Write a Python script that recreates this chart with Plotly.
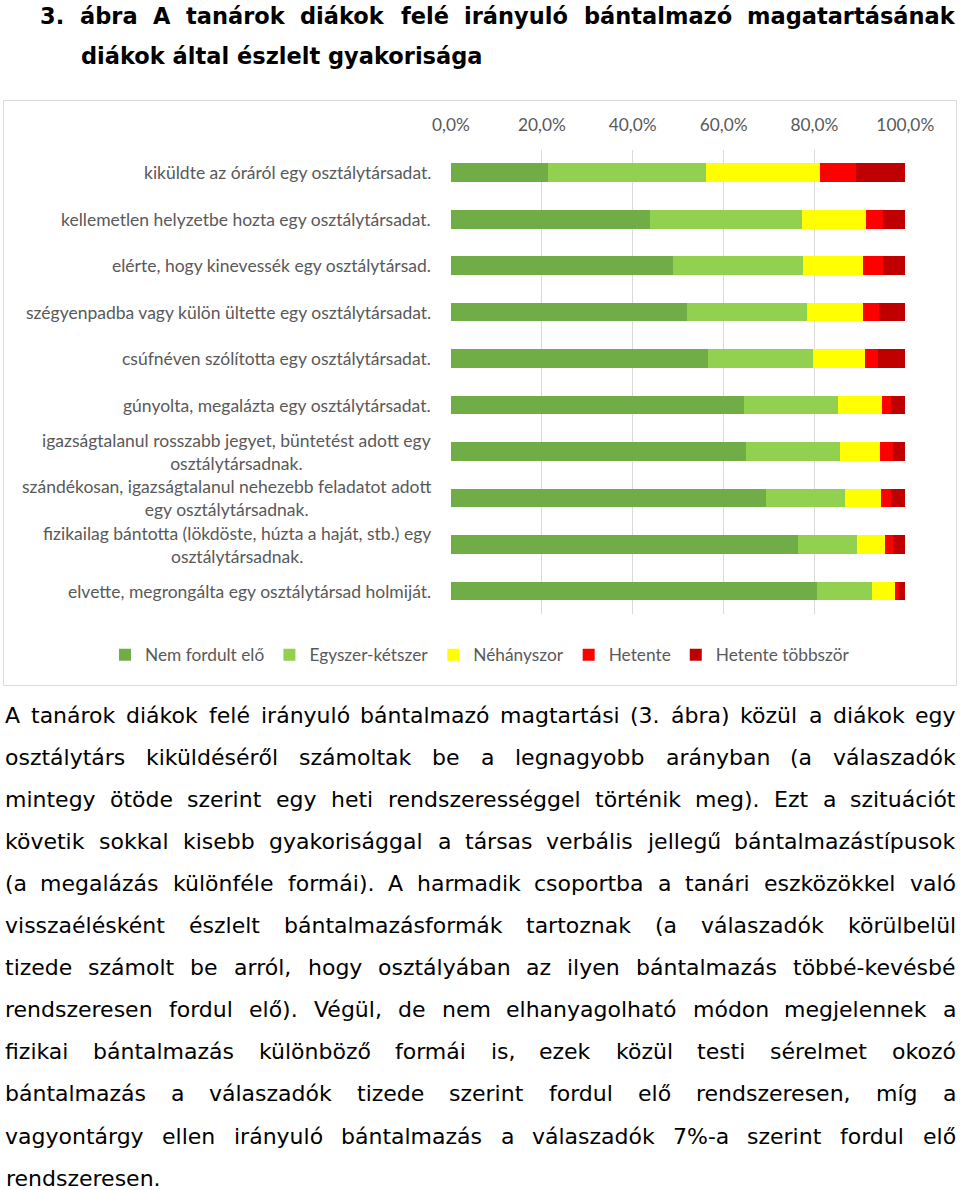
import unicodedata
import plotly.graph_objects as go

W, H = 960, 1190

categories = [
    "kiküldte az óráról egy osztálytársadat.",
    "kellemetlen helyzetbe hozta egy osztálytársadat.",
    "elérte, hogy kinevessék egy osztálytársad.",
    "szégyenpadba vagy külön ültette egy osztálytársadat.",
    "csúfnéven szólította egy osztálytársadat.",
    "gúnyolta, megalázta egy osztálytársadat.",
    "igazságtalanul rosszabb jegyet, büntetést adott egy<br>osztálytársadnak.",
    "szándékosan, igazságtalanul nehezebb feladatot adott<br>egy osztálytársadnak.",
    "fizikailag bántotta (lökdöste, húzta a haját, stb.) egy<br>osztálytársadnak.",
    "elvette, megrongálta egy osztálytársad holmiját.",
]

series_names = ["Nem fordult elő", "Egyszer-kétszer", "Néhányszor", "Hetente", "Hetente többször"]
nem_fordult_elo = [21.4, 43.8, 48.9, 51.9, 56.6, 64.5, 64.9, 69.3, 76.3, 80.5]
egyszer_ketszer = [34.7, 33.4, 28.6, 26.4, 23.1, 20.7, 20.8, 17.4, 13.1, 12.2]
nehanyszor = [25.1, 14.2, 13.1, 12.3, 11.4, 9.7, 8.8, 7.9, 6.2, 5.1]
hetente = [7.9, 3.8, 4.5, 3.5, 2.8, 1.9, 2.7, 2.2, 1.8, 0.9]
hetente_tobbszor = [10.9, 4.8, 4.9, 5.9, 6.1, 3.2, 2.8, 3.2, 2.6, 1.3]
series_values = [nem_fordult_elo, egyszer_ketszer, nehanyszor, hetente, hetente_tobbszor]
series_colors = ["#70AD47", "#92D050", "#FFFF00", "#FF0000", "#C00000"]

x_tick_values = [0, 0.2, 0.4, 0.6, 0.8, 1.0]

title_line1 = "3. ábra A tanárok diákok felé irányuló bántalmazó magatartásának"
title_line2 = "diákok által észlelt gyakorisága"

body_lines = [
    "A tanárok diákok felé irányuló bántalmazó magtartási (3. ábra) közül a diákok egy",
    "osztálytárs kiküldéséről számoltak be a legnagyobb arányban (a válaszadók",
    "mintegy ötöde szerint egy heti rendszerességgel történik meg). Ezt a szituációt",
    "követik sokkal kisebb gyakorisággal a társas verbális jellegű bántalmazástípusok",
    "(a megalázás különféle formái). A harmadik csoportba a tanári eszközökkel való",
    "visszaélésként észlelt bántalmazásformák tartoznak (a válaszadók körülbelül",
    "tizede számolt be arról, hogy osztályában az ilyen bántalmazás többé-kevésbé",
    "rendszeresen fordul elő). Végül, de nem elhanyagolható módon megjelennek a",
    "fizikai bántalmazás különböző formái is, ezek közül testi sérelmet okozó",
    "bántalmazás a válaszadók tizede szerint fordul elő rendszeresen, míg a",
    "vagyontárgy ellen irányuló bántalmazás a válaszadók 7%-a szerint fordul elő",
    "rendszeresen.",
]

# ---- approximate DejaVu Sans advance widths (units per em = 2048) ----
REG = {" ": 651, "%": 1946, "(": 799, ")": 799, ",": 651, "-": 739, ".": 651,
       "A": 1401, "E": 1294, "V": 1401,
       "a": 1255, "b": 1300, "c": 1126, "d": 1300, "e": 1260, "f": 721, "g": 1300,
       "h": 1298, "i": 569, "j": 569, "k": 1186, "l": 569, "m": 1995, "n": 1298,
       "o": 1253, "p": 1300, "q": 1300, "r": 842, "s": 1067, "t": 803, "u": 1298,
       "v": 1212, "w": 1675, "x": 1212, "y": 1212, "z": 1075}
BOLD = {" ": 713, ".": 780, "A": 1581, "a": 1382, "b": 1466, "d": 1466, "e": 1389,
        "f": 891, "g": 1466, "i": 702, "k": 1360, "l": 702, "m": 2134, "n": 1458,
        "o": 1407, "r": 1010, "s": 1219, "t": 979, "u": 1458, "y": 1331, "z": 1186}


def word_width(word, table, size, digit):
    total = 0
    for ch in word:
        base = unicodedata.normalize("NFD", ch)[0]
        if base.isdigit():
            total += digit
        else:
            total += table.get(base, 1200)
    return total / 2048 * size


annotations = []


def place_words(words, y_px, x0, x1, size, bold, justify):
    table = BOLD if bold else REG
    digit = 1425 if bold else 1303
    widths = [word_width(w, table, size, digit) for w in words]
    if justify and len(words) > 1:
        gap = (x1 - x0 - sum(widths)) / (len(words) - 1)
    else:
        gap = table[" "] / 2048 * size
    x = x0
    for w, wd in zip(words, widths):
        annotations.append(dict(
            text=w, x=(x + wd / 2) / W, y=1 - y_px / H, xref="paper", yref="paper",
            xanchor="center", yanchor="middle", showarrow=False,
            font=dict(family="DejaVu Sans", size=size, color="#000000",
                      weight="bold" if bold else "normal"),
        ))
        x += wd + gap


def single_line(text, x_px, y_px, size, bold):
    annotations.append(dict(
        text=text, x=x_px / W, y=1 - y_px / H, xref="paper", yref="paper",
        xanchor="left", yanchor="middle", showarrow=False, borderpad=0,
        font=dict(family="DejaVu Sans", size=size, color="#000000",
                  weight="bold" if bold else "normal"),
    ))


# title
t_words = title_line1.split(" ")
place_words(t_words[:1], 16, 40, 80, 22.5, True, False)
place_words(t_words[1:], 16, 80, 955, 22.5, True, True)
single_line(title_line2, 80, 56, 22.5, True)

# body paragraph
for i, line in enumerate(body_lines):
    y = 715 + i * 42.1
    if i == len(body_lines) - 1:
        single_line(line, 5, y, 22, False)
    else:
        place_words(line.split(" "), y, 5, 956, 22, False, True)

# category labels (centered lines, right-aligned block)
for c in categories:
    annotations.append(dict(
        text=c, x=433 / W, y=c, xref="paper", yref="y", xanchor="right",
        yanchor="middle", align="center", showarrow=False,
        font=dict(family="Lato", size=17.5, color="#595959"),
    ))

fig = go.Figure()
for name, vals, col in zip(series_names, series_values, series_colors):
    fig.add_trace(go.Bar(
        name=name, y=categories, x=[v / 100 for v in vals], orientation="h",
        marker=dict(color=col, line=dict(width=0)),
    ))

fig.update_layout(
    width=W, height=H, margin=dict(l=0, r=0, t=0, b=0, autoexpand=False),
    paper_bgcolor="white", plot_bgcolor="white",
    barmode="stack", bargap=0.6, separators=", ",
    showlegend=True,
    legend=dict(orientation="h", x=480 / W, xanchor="center", y=1 - 655 / H,
                yanchor="middle", font=dict(family="Lato", size=17.3, color="#595959"),
                traceorder="normal", itemwidth=30),
    xaxis=dict(domain=[451 / W, 905.3 / W], range=[0, 1], side="top",
               tickvals=x_tick_values, tickformat=".1%", showgrid=True,
               gridcolor="#d9d9d9", gridwidth=1, zeroline=False, showline=False,
               ticks="", ticklabelstandoff=14,
               tickfont=dict(family="Lato", size=17.3, color="#595959"),
               fixedrange=True, automargin=False),
    yaxis=dict(domain=[1 - 614.3 / H, 1 - 149.5 / H], type="category",
               categoryorder="array", categoryarray=categories, autorange="reversed",
               showticklabels=False, showgrid=False, zeroline=False, showline=False,
               fixedrange=True, automargin=False),
    annotations=annotations,
    shapes=[dict(type="rect", xref="paper", yref="paper", x0=3.5 / W, x1=956.5 / W,
                 y0=1 - 100.5 / H, y1=1 - 685.5 / H,
                 line=dict(color="#d9d9d9", width=1), layer="below")],
)

fig.write_html("out.html")
